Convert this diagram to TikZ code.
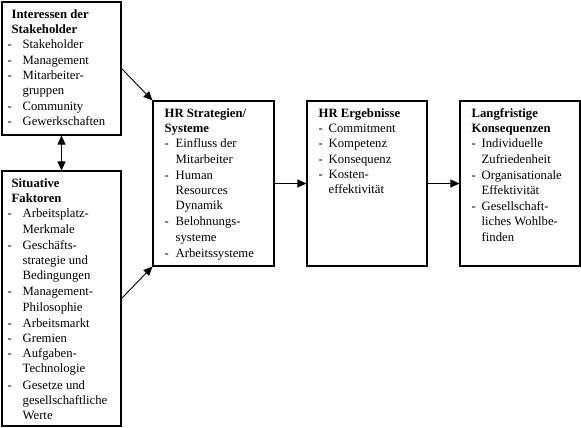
\documentclass[tikz,border=0pt]{standalone}
\usepackage{fontspec}
\setmainfont{Liberation Serif}
\usetikzlibrary{arrows.meta}

% one item of a list: dash, then the (possibly broken) text
\newcommand{\itm}[2][15pt]{\\\makebox[#1][l]{-}\begin{tabular}[t]{@{}l@{}}#2\end{tabular}}

\tikzset{
  box/.style={draw, line width=1.1pt, inner sep=0pt},
  txt/.style={anchor=north west, align=left, inner sep=0pt,
    font=\fontsize{12.7}{15.2}\selectfont},
  arr/.style={-{Triangle[length=9pt,width=8pt]}, line width=0.9pt},
}

\begin{document}
\begin{tikzpicture}[x=1pt, y=-1pt]
\useasboundingbox (0,0) rectangle (581,428);

% Boxes
\node[box, minimum width=119pt, minimum height=133pt] (stake) at (61.5,68.5) {};
\node[box, minimum width=119pt, minimum height=255pt] (situ) at (61.5,298.5) {};
\node[box, minimum width=121pt, minimum height=165pt] (strat) at (213.5,183.5) {};
\node[box, minimum width=120pt, minimum height=165pt] (ergeb) at (367,183.5) {};
\node[box, minimum width=120pt, minimum height=165pt] (konseq) at (520,183.5) {};

% Texts
\node[txt, xshift=6pt, yshift=-8pt] (stake text) at (stake.north west)
  {\hspace*{4pt}\textbf{Interessen der}\\\hspace*{4pt}\textbf{Stakeholder}%
   \itm{Stakeholder}\itm{Management}\itm{Mitarbeiter-\\gruppen}%
   \itm{Community}\itm{Gewerkschaften}};
\node[txt, xshift=6pt, yshift=-8pt] (situ text) at (situ.north west)
  {\hspace*{4pt}\textbf{Situative}\\\hspace*{4pt}\textbf{Faktoren}%
   \itm{Arbeitsplatz-\\Merkmale}\itm{Geschäfts-\\strategie und\\Bedingungen}%
   \itm{Management-\\Philosophie}\itm{Arbeitsmarkt}\itm{Gremien}%
   \itm{Aufgaben-\\Technologie}\itm{Gesetze und\\gesellschaftliche\\Werte}};
\node[txt, xshift=12pt, yshift=-8pt] (strat text) at (strat.north west)
  {\textbf{HR Strategien/}\\\textbf{Systeme}%
   \itm[11pt]{Einfluss der\\Mitarbeiter}\itm[11pt]{Human\\Resources\\Dynamik}%
   \itm[11pt]{Belohnungs-\\systeme}\itm[11pt]{Arbeitssysteme}};
\node[txt, xshift=12pt, yshift=-8pt] (ergeb text) at (ergeb.north west)
  {\textbf{HR Ergebnisse}%
   \itm[10pt]{Commitment}\itm[10pt]{Kompetenz}\itm[10pt]{Konsequenz}%
   \itm[10pt]{Kosten-\\effektivität}};
\node[txt, xshift=12pt, yshift=-8pt] (konseq text) at (konseq.north west)
  {\textbf{Langfristige}\\\textbf{Konsequenzen}%
   \itm[10pt]{Individuelle\\Zufriedenheit}\itm[10pt]{Organisationale\\Effektivität}%
   \itm[10pt]{Gesellschaft-\\liches Wohlbe-\\finden}};

% Connectors
\draw[arr, {Triangle[length=9pt,width=8pt]}-{Triangle[length=9pt,width=8pt]}] (stake.south) -- (situ.north);
\draw[arr] (stake.east) -- (strat.north west);
\draw[arr] (situ.east) -- (strat.south west);
\draw[arr] (strat.east) -- (ergeb.west);
\draw[arr] (ergeb.east) -- (konseq.west);
\end{tikzpicture}
\end{document}
